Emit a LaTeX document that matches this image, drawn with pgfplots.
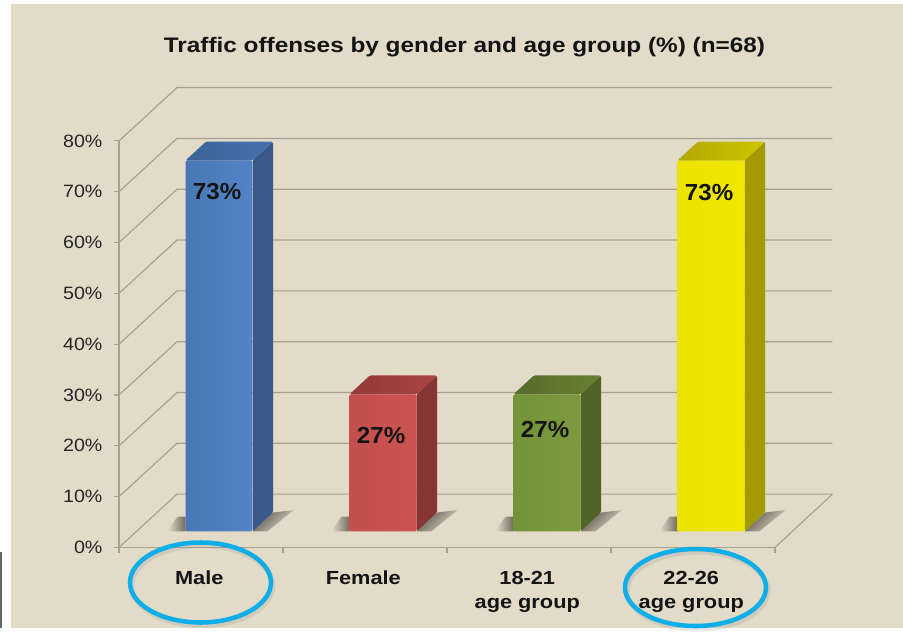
\documentclass[border=0pt]{standalone}
\usepackage{fontspec}
\setmainfont{Liberation Sans}
\newfontfamily\titlefam[FakeStretch=1.159]{Liberation Sans}
\newfontfamily\tickfam[FakeStretch=1.10]{Liberation Sans}
\newfontfamily\catfam[FakeStretch=1.15]{Liberation Sans}
\newfontfamily\valfam[FakeStretch=1.04]{Liberation Sans}
\usepackage{pgfplots}
\pgfplotsset{compat=1.18}
\definecolor{panel}{HTML}{E2DBC8}
\definecolor{gridc}{HTML}{A8A191}
\definecolor{shadowc}{HTML}{6F6B5D}
\definecolor{shadowd}{HTML}{57534A}
\definecolor{ringc}{HTML}{10AEE8}
% Face colours of the four bars: front (two stops), side, top (two stops)
\definecolor{maleFa}{HTML}{4A78B6}\definecolor{maleFb}{HTML}{5283C6}
\definecolor{maleS}{HTML}{38598A}
\definecolor{maleTa}{HTML}{3A6297}\definecolor{maleTb}{HTML}{4672AE}
\definecolor{femaleFa}{HTML}{C24F4D}\definecolor{femaleFb}{HTML}{CB5451}
\definecolor{femaleS}{HTML}{853534}
\definecolor{femaleTa}{HTML}{933A38}\definecolor{femaleTb}{HTML}{A84442}
\definecolor{youngFa}{HTML}{749338}\definecolor{youngFb}{HTML}{7C993F}
\definecolor{youngS}{HTML}{4F6427}
\definecolor{youngTa}{HTML}{566C2C}\definecolor{youngTb}{HTML}{67812F}
\definecolor{olderFa}{HTML}{ECE300}\definecolor{olderFb}{HTML}{F0E700}
\definecolor{olderS}{HTML}{A29A00}
\definecolor{olderTa}{HTML}{B0A800}\definecolor{olderTb}{HTML}{CEC500}

% One solid bar: category, value, colour set, label height
\newcommand{\solidbar}[4]{%
  \pgfmathsetmacro\xl{#1+0.11-0.2043}%
  \pgfmathsetmacro\xr{#1+0.11+0.2043}%
  \pgfmathsetmacro\xlb{\xl+0.125}%
  \pgfmathsetmacro\xrb{\xr+0.125}%
  \pgfmathsetmacro\yf{3.15}%
  \pgfmathsetmacro\yfb{\yf+3.73}%
  \pgfmathsetmacro\yt{#2+\yf}%
  \pgfmathsetmacro\ytb{\yt+3.73}%
  % floor shadows either side of the bar foot
  \pgfmathsetmacro\sa{\xl-0.11}%
  \pgfmathsetmacro\sb{\xl-0.05}%
  \pgfmathsetmacro\sc{\xr+0.25}%
  \pgfmathsetmacro\sd{\xr+0.09}%
  \pgfmathsetmacro\ysa{\yf+2.9}%
  \pgfmathsetmacro\ysb{\yf+4.2}%
  \addplot[draw=none,left color=panel,right color=shadowc] coordinates
    {(\sa,\yf) (\xl,\yf) (\xl,\ysa) (\sb,\ysa)} --cycle;
  \addplot[draw=none,left color=shadowd,right color=panel,shading angle=45] coordinates
    {(\xr,\yf) (\xrb,\yfb) (\sc,\ysb) (\sd,\yf)} --cycle;
  % side, top and front faces
  \addplot[draw=none,fill=#3S,rounded corners=1pt] coordinates
    {(\xr,\yf) (\xrb,\yfb) (\xrb,\ytb) (\xr,\yt)} --cycle;
  \addplot[draw=none,left color=#3Ta,right color=#3Tb,rounded corners=1.2pt] coordinates
    {(\xl,\yt) (\xlb,\ytb) (\xrb,\ytb) (\xr,\yt)} --cycle;
  \addplot[draw=none,left color=#3Fa,right color=#3Fb,rounded corners=1pt] coordinates
    {(\xl,\yf) (\xl,\yt) (\xr,\yt) (\xr,\yf)} --cycle;
  \edef\temp{\noexpand\node[font=\noexpand\valfam\noexpand\fontsize{17.4pt}{19pt}\noexpand\bfseries,text=black!92]
    at (axis cs:#1+0.098,#4) {#2\noexpand\%};}%
  \temp
}

\begin{document}
\begin{tikzpicture}
\begin{scope}[x=0.75pt,y=-0.75pt]
  \useasboundingbox (0,0) rectangle (903,628);
  \fill[white] (0,0) rectangle (903,628);
  \fill[panel] (11,3.5) rectangle (903,628);
  \fill[black!60] (0,552) rectangle (1.5,628);
\end{scope}
\begin{axis}[
  at={(89.25pt,-410.6pt)}, anchor=south west,
  scale only axis, width=492pt, height=304.9pt,
  xmin=-0.5, xmax=3.5, ymin=0, ymax=80,
  clip=false,
  axis x line*=bottom, axis y line*=left,
  axis line style={gridc,line width=0.9pt,-},
  major tick length=3.9pt,
  tick align=outside,
  tick style={gridc,line width=0.8pt},
  ytick={0,10,20,30,40,50,60,70,80},
  yticklabels={0\%,10\%,20\%,30\%,40\%,50\%,60\%,70\%,80\%},
  yticklabel style={font=\tickfam\fontsize{13.4pt}{15pt}\selectfont,text=black!85,xshift=-5pt},
  xtick={0,1,2,3},
  xticklabels={Male,Female,{18-21\\age group},{22-26\\age group}},
  xtick style={draw=none},
  xticklabel style={font=\catfam\fontsize{14.2pt}{18.1pt}\selectfont\bfseries,text=black!92,
    align=center,anchor=north,xshift=-1.3pt,yshift=-10.3pt},
  extra x ticks={-0.5,0.5,1.5,2.5,3.5},
  extra x tick labels={},
  extra x tick style={xtick style={draw=gridc,line width=0.8pt}},
]
% side wall and back wall rules, one per value level
\pgfplotsinvokeforeach{0,10,...,80}{%
  \pgfmathsetmacro\yback{#1+10.5}%
  \addplot[gridc,line width=0.9pt] coordinates {(-0.5,#1) (-0.1463,\yback) (3.85,\yback)};
}
\addplot[gridc,line width=0.9pt] coordinates {(3.85,10.5) (3.5,0)};

\solidbar{0}{73}{male}{70.1}
\solidbar{1}{27}{female}{22.1}
\solidbar{2}{27}{young}{23.3}
\solidbar{3}{73}{older}{69.9}
\end{axis}
\begin{scope}[x=0.75pt,y=-0.75pt]
  \node[font=\titlefam\fontsize{15.75pt}{18pt}\bfseries,text=black!92] at (464.5,47.5) {Traffic offenses by gender and age group (\%) (n=68)};
  % highlighted categories
  \draw[black!45,opacity=0.2,line width=4pt] (202,585.5) ellipse (70.5 and 40);
  \draw[black!45,opacity=0.2,line width=4pt] (697.5,590.5) ellipse (70.5 and 38.5);
  \draw[ringc,line width=3.4pt] (200.5,582.5) ellipse (70.5 and 40);
  \draw[ringc,line width=3.4pt] (695.5,587.5) ellipse (70.5 and 38.5);
\end{scope}
\end{tikzpicture}
\end{document}
